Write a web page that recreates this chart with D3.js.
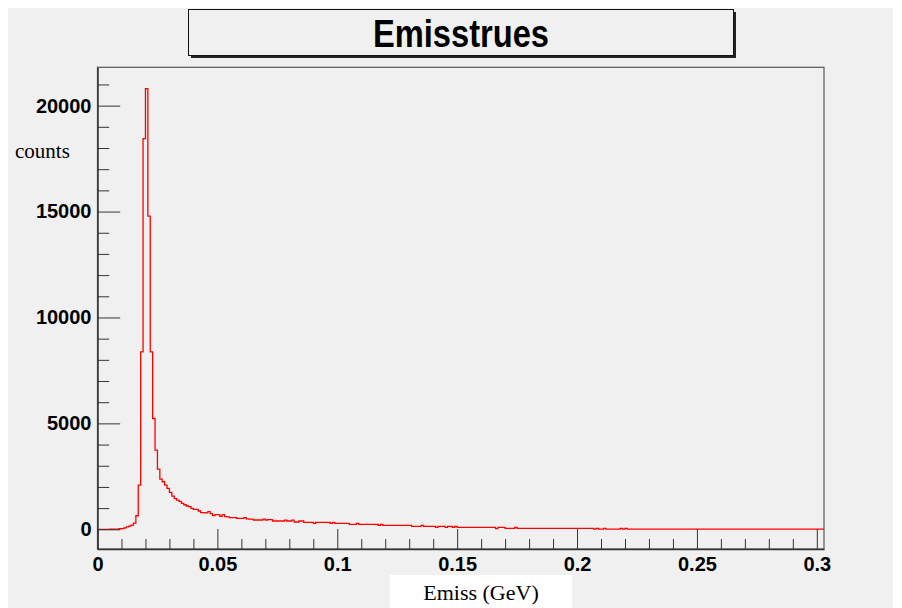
<!DOCTYPE html>
<html>
<head>
<meta charset="utf-8">
<script src="https://cdn.jsdelivr.net/npm/d3@7"></script>
<style>
  body { margin: 0; background: #ffffff; }
  .tick text { font-family: "Liberation Sans", Arial, sans-serif; font-weight: bold; }
</style>
</head>
<body>
<script>
// histogram Emisstrues, bins of 0.001 GeV starting at 0
const binLow = 0;
const binWidth = 0.001;

const counts = [
  0, 0, 0, 0, 0, 2, 4, 6, 10, 25,
  30, 70, 110, 150, 200, 290, 640, 2090, 8380, 18440,
  20800, 14780, 8380, 5230, 3740, 2840, 2370, 2245, 2090, 1930,
  1745, 1570, 1445, 1380, 1320, 1225, 1160, 1100, 1070, 990,
  945, 940, 865, 790, 785, 780, 830, 740, 645, 690,
  690, 615, 690, 600, 590, 550, 550, 550, 520, 520,
  515, 550, 490, 485, 480, 440, 440, 440, 440, 480,
  440, 453, 453, 391, 391, 391, 391, 391, 432, 391,
  391, 432, 344, 344, 391, 391, 330, 330, 330, 330,
  283, 330, 330, 330, 330, 330, 330, 283, 330, 283,
  283, 283, 283, 283, 283, 236, 236, 236, 283, 236,
  236, 236, 236, 236, 236, 236, 236, 189, 236, 189,
  189, 189, 189, 189, 189, 189, 189, 189, 189, 189,
  189, 141, 141, 141, 141, 189, 141, 141, 141, 141,
  141, 94, 141, 141, 141, 94, 141, 141, 94, 141,
  94, 94, 94, 94, 94, 94, 94, 94, 94, 94,
  94, 94, 94, 94, 94, 94, 30, 94, 94, 94,
  47, 47, 47, 47, 94, 47, 47, 47, 47, 47,
  47, 47, 47, 47, 47, 47, 47, 47, 47, 47,
  47, 47, 47, 47, 47, 47, 47, 47, 47, 47,
  47, 47, 47, 47, 47, 47, 47, 5, 47, 5,
  5, 47, 5, 5, 5, 5, 5, 5, 47, 5,
  47, 8, 6, 5, 8, 6, 5, 6, 8, 5,
  6, 5, 8, 5, 6, 5, 5, 8, 6, 5,
  5, 6, 5, 8, 5, 5, 6, 5, 5, 8,
  5, 5, 6, 5, 5, 5, 8, 5, 5, 6,
  5, 5, 5, 6, 5, 5, 5, 5, 6, 5,
  5, 5, 6, 5, 5, 5, 5, 5, 5, 5,
  5, 5, 5, 5, 6, 5, 5, 5, 5, 5,
  5, 5, 5, 5, 5, 5, 5, 5, 5, 5,
  5, 5, 5
];

const xTickValues = [0, 0.05, 0.1, 0.15, 0.2, 0.25, 0.3];
const xTickLabels = ["0", "0.05", "0.1", "0.15", "0.2", "0.25", "0.3"];
const yTickValues = [0, 5000, 10000, 15000, 20000];
const yTickLabels = ["0", "5000", "10000", "15000", "20000"];

const titleText = "Emisstrues";
const xTitle = "Emiss (GeV)";
const yTitle = "counts";

let margin = null,
    width = null,
    height = null;

let svg = null, root = null;
let x, y = null; // scales

setupCanvasSize();
appendSvg("body");
appendBackground();
setupXScale();
setupYScale();
appendFrame();
appendHistogram();
appendXAxis();
appendYAxis();
appendTitles();


function setupCanvasSize() {
  margin = {top: 67.3, left: 97.5, bottom: 59, right: 78};
  width = 902 - margin.left - margin.right;
  height = 608 - margin.top - margin.bottom;
}

function appendSvg(domElement) {
  root = d3.select(domElement).append("svg")
              .attr("width", 902)
              .attr("height", 608)
              .style("display", "block");
  svg = root.append("g")
              .attr("transform", `translate(${margin.left}, ${margin.top})`);
}

// ROOT-like grey canvas with a thin white border
function appendBackground() {
  root.insert("rect", ":first-child")
    .attr("x", 8).attr("y", 8)
    .attr("width", 885).attr("height", 600)
    .attr("fill", "#f0f0f0");
}

function setupXScale() {
  x = d3.scaleLinear()
      .range([0, width])
      .domain([0, 0.303]);
}

function setupYScale() {
  y = d3.scaleLinear()
        .range([height, 0])
        .domain([-930, 21810]);
}

function appendFrame() {
  svg.append("rect")
    .attr("width", width)
    .attr("height", height)
    .attr("fill", "none")
    .attr("stroke", "#555")
    .attr("stroke-width", 1.2);
}

function appendHistogram() {
  // step line, each bin is a flat segment
  let pts = counts.map((c, i) => [binLow + i * binWidth, c]);
  pts.push([binLow + counts.length * binWidth, counts[counts.length - 1]]);

  let step = d3.line()
      .x(d => x(d[0]))
      .y(d => y(d[1]))
      .curve(d3.curveStepAfter);

  svg.append("path")
    .datum(pts)
    .attr("fill", "none")
    .attr("stroke", "#ff0000")
    .attr("stroke-width", 1.3)
    .attr("d", step);
}

function appendXAxis() {
  // minor ticks every 0.01
  let minor = d3.range(0, 0.3005, 0.01).filter(v => xTickValues.indexOf(+v.toFixed(2)) < 0);
  svg.append("g")
    .attr("transform", `translate(0, ${height})`)
    .call(d3.axisBottom(x).tickValues(minor).tickSize(-10).tickFormat(""))
    .call(g => g.select(".domain").remove())
    .selectAll("line").attr("stroke", "#333");

  let ax = svg.append("g")
    .attr("transform", `translate(0, ${height})`)
    .call(d3.axisBottom(x)
            .tickValues(xTickValues)
            .tickSize(-20)
            .tickSizeOuter(0)
            .tickPadding(8)
            .tickFormat((d, i) => xTickLabels[i]));
  ax.select(".domain").attr("stroke", "#333").attr("stroke-width", 1.5);
  ax.selectAll("line").attr("stroke", "#333");
  ax.selectAll("text").attr("font-size", 20).attr("fill", "#000");
}

function appendYAxis() {
  let minor = d3.range(0, 21001, 1000).filter(v => v % 5000 != 0);
  svg.append("g")
    .call(d3.axisLeft(y).tickValues(minor).tickSize(-11.7).tickFormat(""))
    .call(g => g.select(".domain").remove())
    .selectAll("line").attr("stroke", "#333");

  let ay = svg.append("g")
    .call(d3.axisLeft(y)
            .tickValues(yTickValues)
            .tickSize(-22.7)
            .tickSizeOuter(0)
            .tickPadding(6)
            .tickFormat((d, i) => yTickLabels[i]));
  ay.select(".domain").attr("stroke", "#333").attr("stroke-width", 1.5);
  ay.selectAll("line").attr("stroke", "#333");
  ay.selectAll("text").attr("font-size", 20).attr("fill", "#000");
}

function appendTitles() {
  // title box with a dark shadow on right and bottom
  root.append("rect")
    .attr("x", 191).attr("y", 12)
    .attr("width", 545).attr("height", 46)
    .attr("fill", "#222");
  root.append("rect")
    .attr("x", 188.5).attr("y", 9.5)
    .attr("width", 545).attr("height", 46)
    .attr("fill", "#f0f0f0")
    .attr("stroke", "#111")
    .attr("stroke-width", 1);
  root.append("text")
    .attr("x", 461).attr("y", 47)
    .attr("text-anchor", "middle")
    .attr("font-family", "Liberation Sans, Arial, sans-serif")
    .attr("font-weight", "bold")
    .attr("font-size", 38)
    .attr("textLength", 176)
    .attr("lengthAdjust", "spacingAndGlyphs")
    .text(titleText);

  // x title sits on a white patch
  root.append("rect")
    .attr("x", 390).attr("y", 575)
    .attr("width", 182).attr("height", 33)
    .attr("fill", "#ffffff");
  root.append("text")
    .attr("x", 481).attr("y", 600)
    .attr("text-anchor", "middle")
    .attr("font-family", "Liberation Serif, Times New Roman, serif")
    .attr("font-size", 22)
    .text(xTitle);

  root.append("text")
    .attr("x", 15).attr("y", 158)
    .attr("font-family", "Liberation Serif, Times New Roman, serif")
    .attr("font-size", 21)
    .text(yTitle);
}
</script>
</body>
</html>
